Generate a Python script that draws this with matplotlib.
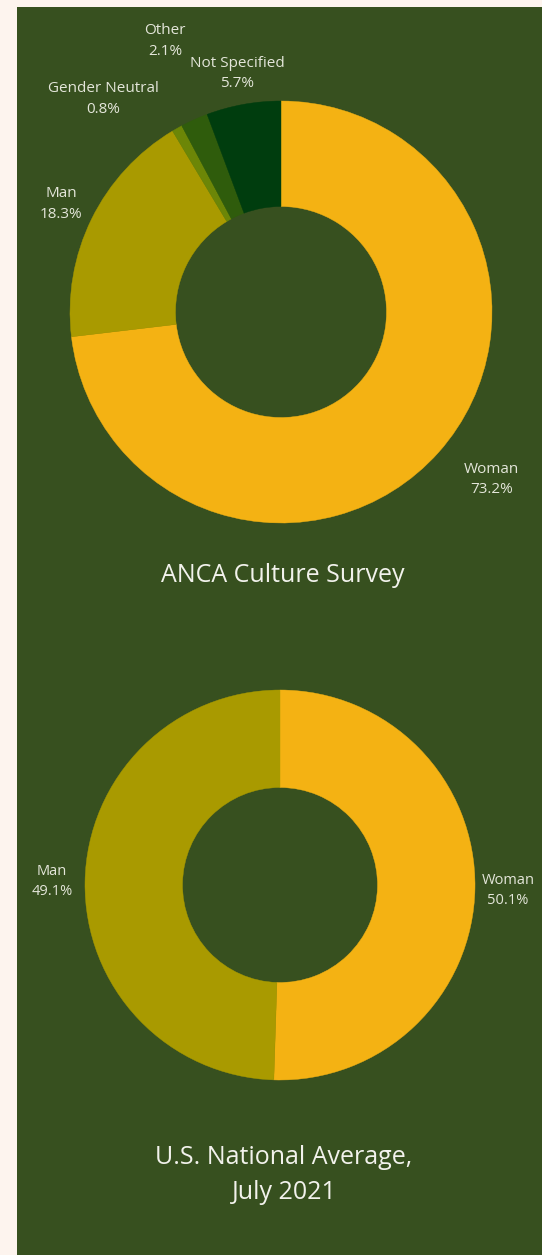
import numpy as np
import matplotlib
matplotlib.use("Agg")
import matplotlib.pyplot as plt
from matplotlib.patches import Rectangle

# --- Data ---
survey_labels = ["Woman", "Man", "Gender Neutral", "Other", "Not Specified"]
survey_values = [73.2, 18.3, 0.8, 2.1, 5.7]
survey_colors = ["#f4b213", "#a99a00", "#6c8607", "#2f5c0c", "#003d0e"]

national_labels = ["Woman", "Man"]
national_values = [50.1, 49.1]
national_colors = ["#f4b213", "#a99a00"]

BG = "#37501f"
CREAM = "#fdf4ee"
TXT = "#e4e6da"

plt.rcParams['font.family'] = ['Open Sans', 'DejaVu Sans']

W, H = 542, 1255
fig = plt.figure(figsize=(W / 100, H / 100), dpi=100, facecolor=CREAM)
fig.patches.append(Rectangle((17 / W, 0), 1, (H - 7) / H, transform=fig.transFigure,
                             facecolor=BG, edgecolor='none', zorder=-10))


def add_donut(cx, cy, r, values, colors, labels, dists, nudges, fs, ls):
    # axes placed in pixel space so the pie radius maps to r pixels
    ax = fig.add_axes([(cx - r) / W, (H - cy - r) / H, 2 * r / W, 2 * r / H])
    ax.set_zorder(5)
    ax.patch.set_visible(False)
    ax.axis('off')
    wedges, _ = ax.pie(values, colors=colors, startangle=90, counterclock=False,
                       radius=1, wedgeprops=dict(width=0.5, linewidth=0.3))
    for w, c in zip(wedges, colors):
        w.set_edgecolor(c)
    ax.set_xlim(-1, 1)
    ax.set_ylim(-1, 1)
    for w, lab, val, d, (dx, dy) in zip(wedges, labels, values, dists, nudges):
        ang = np.deg2rad((w.theta1 + w.theta2) / 2)
        x = d * np.cos(ang) + dx
        y = d * np.sin(ang) + dy
        ax.text(x, y, f"{lab}\n{val}%", ha='center', va='center', color=TXT,
                fontsize=fs, linespacing=ls)
    return ax


add_donut(281, 312, 211, survey_values, survey_colors, survey_labels,
          [1.27, 1.16, 1.16, 1.41, 1.16],
          [(0.05, 0.05), (0, 0), (-0.27, 0.0), (0.03, 0), (0, -0.01)], 11, 1.5)

add_donut(280, 885, 195, national_values, national_colors, national_labels,
          [1.17, 1.17], [(0, -0.01), (0, 0)], 10.5, 1.4)

fig.text(283 / W, 1 - 576 / H, "ANCA Culture Survey", ha='center', va='center',
         color='#f2f2ec', fontsize=18)
fig.text(284 / W, 1 - 1175 / H, "U.S. National Average,\nJuly 2021", ha='center',
         va='center', color='#f2f2ec', fontsize=18, linespacing=1.5)

fig.savefig("out.png", dpi=100, facecolor=CREAM)
